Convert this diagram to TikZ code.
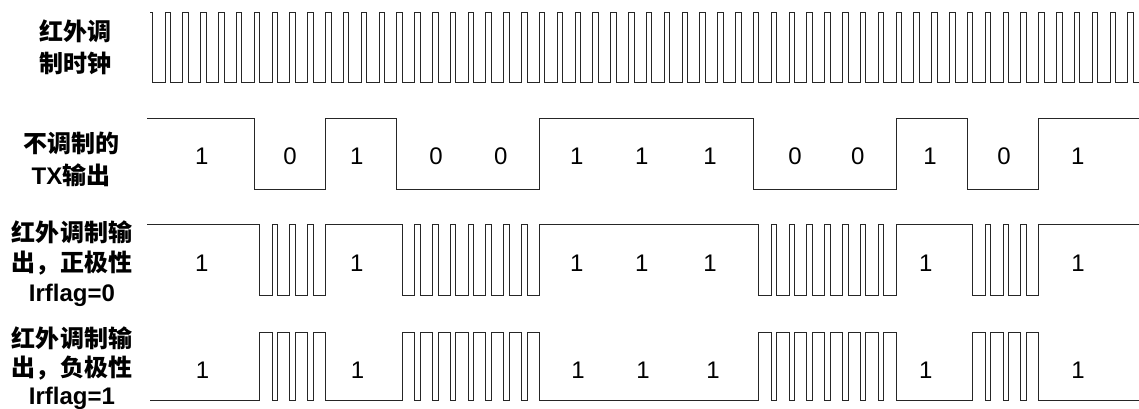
\documentclass[tikz,border=0pt]{standalone}
\usepackage{fontspec}
\setmainfont{Liberation Sans}
\newfontfamily\cjk{Noto Sans CJK SC}
\newcommand\pw{5.5}
% zero-run: start boundary, inner clock list, end boundary, level of "1", rest level of carrier
\newcommand\zrun[5]{-- ({xk(#1)+\pw},#4) -- ({xk(#1)+\pw},#5)
  \foreach \k in {#2}{ -- ({xk(\k)},#5) -- ({xk(\k)},#4) -- ({xk(\k)+\pw},#4) -- ({xk(\k)+\pw},#5)}
  -- ({xk(#3)},#5) -- ({xk(#3)},#4)}
\begin{document}
\begin{tikzpicture}[x=1pt,y=-1pt,
  declare function={xk(\k)=165+\k*17.83;},
  wave/.style={line width=0.9pt, draw=black!85, line join=miter},
  bit/.style={font=\fontsize{24}{24}\selectfont, inner sep=0pt},
  lab/.style={font=\fontsize{24}{32}\selectfont\bfseries, align=center, inner sep=0pt}]
\useasboundingbox (0,0) rectangle (1139,409);

% clock
\draw[wave] (150,12) -- ({xk(-1)+\pw},12) -- ({xk(-1)+\pw},82)
  \foreach \k in {0,...,54}{ -- ({xk(\k)},82) -- ({xk(\k)},12) -- ({xk(\k)+\pw},12) -- ({xk(\k)+\pw},82)}
  -- (1139,82);

% unmodulated TX
\draw[wave] (147,118) -- ({xk(5)},118) -- ({xk(5)},189) -- ({xk(9)},189) -- ({xk(9)},118)
  -- ({xk(13)},118) -- ({xk(13)},189) -- ({xk(21)},189) -- ({xk(21)},118)
  -- ({xk(33)},118) -- ({xk(33)},189) -- ({xk(41)},189) -- ({xk(41)},118)
  -- ({xk(45)},118) -- ({xk(45)},189) -- ({xk(49)},189) -- ({xk(49)},118) -- (1139,118);

% positive polarity
\draw[wave] (147,224) \zrun{5}{6,7,8}{9}{224}{295} \zrun{13}{14,...,20}{21}{224}{295}
  \zrun{33}{34,...,40}{41}{224}{295} \zrun{45}{46,47,48}{49}{224}{295} -- (1139,224);

% negative polarity
\draw[wave] (150,400.5) \zrun{5}{6,7,8}{9}{400.5}{332} \zrun{13}{14,...,20}{21}{400.5}{332}
  \zrun{33}{34,...,40}{41}{400.5}{332} \zrun{45}{46,47,48}{49}{400.5}{332} -- (1139,400.5);

% left labels
\node[lab] (lclk) at (75,47) {\cjk 红外调\\\cjk 制时钟};
\node[lab] (ltx) at (71,159) {\cjk 不调制的\\{\rmfamily TX}\cjk 输出};
\node[lab, font=\fontsize{24}{30}\selectfont\bfseries] (lpos) at (72,263.5) {\cjk 红外调制输\\\cjk 出，正极性\\Irflag=0};
\node[lab, font=\fontsize{24}{28.5}\selectfont\bfseries] (lneg) at (72,368.5) {\cjk 红外调制输\\\cjk 出，负极性\\Irflag=1};

% TX bit labels
\foreach \x/\b [count=\i] in {201.7/1,290/0,356.7/1,436/0,500.7/0,576.7/1,641.7/1,710/1,795/0,857.7/0,930/1,1004/0,1077.7/1}
  \node[bit] (tb\i) at (\x,156.5) {\b};
% positive polarity labels
\foreach \x [count=\i] in {201.7,356.7,576.7,641.7,710,925.7,1078}
  \node[bit] (pb\i) at (\x,263) {1};
% negative polarity labels
\foreach \x [count=\i] in {202.5,357.5,578,643,713,925.7,1078}
  \node[bit] (nb\i) at (\x,370.5) {1};
\end{tikzpicture}
\end{document}
